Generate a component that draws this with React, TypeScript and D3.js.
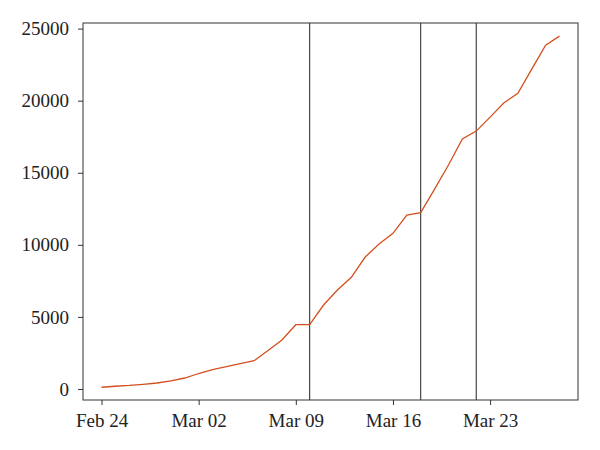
import React, { useEffect, useRef } from 'react'
import * as d3 from 'd3'

const dates = [
    '2020-02-24', '2020-02-25', '2020-02-26', '2020-02-27', '2020-02-28', '2020-02-29',
    '2020-03-01', '2020-03-02', '2020-03-03', '2020-03-04', '2020-03-05', '2020-03-06',
    '2020-03-07', '2020-03-08', '2020-03-09', '2020-03-10', '2020-03-11', '2020-03-12',
    '2020-03-13', '2020-03-14', '2020-03-15', '2020-03-16', '2020-03-17', '2020-03-18',
    '2020-03-19', '2020-03-20', '2020-03-21', '2020-03-22', '2020-03-23', '2020-03-24',
    '2020-03-25', '2020-03-26', '2020-03-27', '2020-03-28'
]

const cases = [
    120, 190, 245, 325, 415, 560,
    763, 1075, 1352, 1546, 1755, 1963,
    2670, 3398, 4459, 4459, 5825, 6865,
    7745, 9155, 10055, 10800, 12065, 12240,
    13870, 15535, 17340, 17890, 18860, 19855,
    20505, 22190, 23855, 24480
]

const eventDates = ['2020-03-10', '2020-03-18', '2020-03-22']

const xTickDates = ['2020-02-24', '2020-03-02', '2020-03-09', '2020-03-16', '2020-03-23']
const yTicks = [0, 5000, 10000, 15000, 20000, 25000]

const App = () => {
    const chartRef = useRef<SVGSVGElement | null>(null)

    useEffect(() => {
        const parse = d3.timeParse('%Y-%m-%d')
        const data = dates.map((d, i) => ({ date: parse(d) as Date, value: cases[i] }))

        const frame = { left: 83, right: 578, top: 23, bottom: 400 }
        const padX = 18.5

        const svg = d3.select(chartRef.current)
        svg.selectAll('*').remove()

        // scales
        const xScale = d3.scaleTime()
            .domain([data[0].date, data[data.length - 1].date])
            .range([frame.left + padX, frame.right - padX])

        const yScale = d3.scaleLinear()
            .domain([0, 25000])
            .range([389, 28.6])

        const font = '"Liberation Serif", "Times New Roman", serif'

        // axes
        const xAxis = d3.axisBottom(xScale)
            .tickValues(xTickDates.map(d => parse(d) as Date))
            .tickFormat(d => d3.timeFormat('%b %d')(d as Date))
            .tickSizeOuter(0)
            .tickSize(5)
            .tickPadding(9)

        const yAxis = d3.axisLeft(yScale)
            .tickValues(yTicks)
            .tickFormat(d3.format('d'))
            .tickSizeOuter(0)
            .tickSize(5)
            .tickPadding(9)

        const gx = svg.append('g')
            .attr('transform', `translate(0,${frame.bottom})`)
            .call(xAxis)
        const gy = svg.append('g')
            .attr('transform', `translate(${frame.left},0)`)
            .call(yAxis)

        for (const g of [gx, gy]) {
            g.select('.domain').remove()
            g.selectAll('line').attr('stroke', '#333')
            g.selectAll('text')
                .attr('fill', '#222')
                .style('font-family', font)
                .style('font-size', '19px')
        }

        // event markers
        svg.selectAll('.event')
            .data(eventDates)
            .enter()
            .append('line')
            .attr('x1', d => xScale(parse(d) as Date))
            .attr('x2', d => xScale(parse(d) as Date))
            .attr('y1', frame.top)
            .attr('y2', frame.bottom)
            .attr('stroke', '#222')
            .attr('stroke-width', 1)

        // frame
        svg.append('rect')
            .attr('x', frame.left)
            .attr('y', frame.top)
            .attr('width', frame.right - frame.left)
            .attr('height', frame.bottom - frame.top)
            .attr('fill', 'none')
            .attr('stroke', '#333')
            .attr('stroke-width', 1)

        // line
        const line = d3.line<{ date: Date, value: number }>()
            .x(d => xScale(d.date))
            .y(d => yScale(d.value))

        svg.append('path')
            .datum(data)
            .attr('fill', 'none')
            .attr('stroke', '#d4501e')
            .attr('stroke-width', 1.3)
            .attr('d', line)
    }, [])

    return (
        <svg
            ref={chartRef}
            width={600}
            height={450}
            style={{ position: 'absolute', left: 0, top: 0, background: '#fff' }}
        />
    )
}

export default App
